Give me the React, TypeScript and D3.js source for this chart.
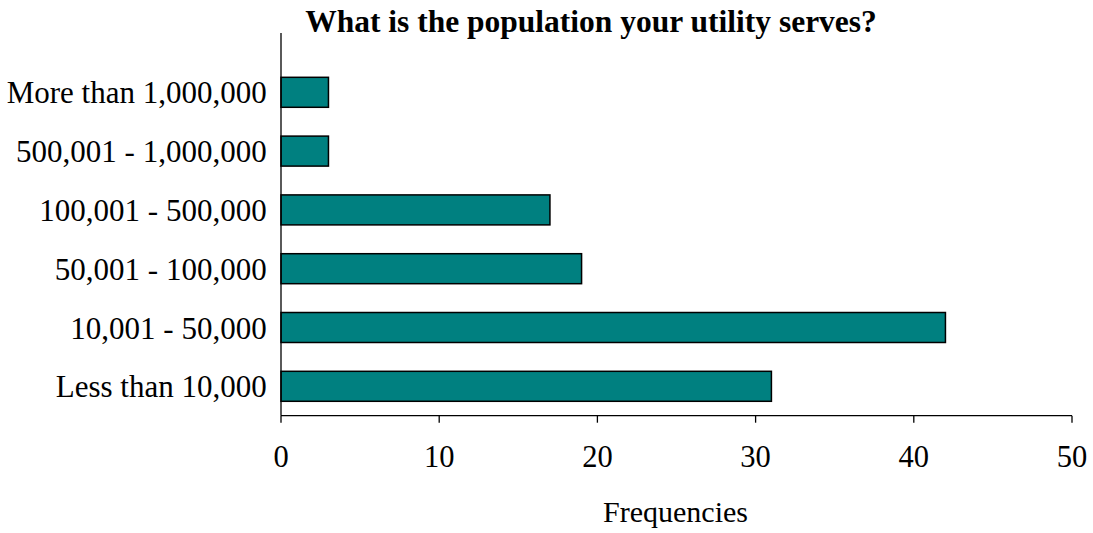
import React from "react";
import * as d3 from "d3";

const categories = [
  "More than 1,000,000",
  "500,001 - 1,000,000",
  "100,001 - 500,000",
  "50,001 - 100,000",
  "10,001 - 50,000",
  "Less than 10,000",
];
const frequencies = [3, 3, 17, 19, 42, 31];
const xTicks = [0, 10, 20, 30, 40, 50];
const title = "What is the population your utility serves?";
const xTitle = "Frequencies";

const W = 1093;
const H = 533;
const FONT = "'Liberation Serif', 'Times New Roman', serif";

export default function App() {
  const x = d3.scaleLinear().domain([0, 50]).range([281, 1072]);
  const y = d3
    .scaleBand<string>()
    .domain(categories)
    .range([62.9, 415.7])
    .paddingInner(0.49)
    .paddingOuter(0.245);
  const axisY = 415.7;
  const axisTop = 33;

  return (
    <svg
      width={W}
      height={H}
      style={{ position: "absolute", left: 0, top: 0, background: "#fff" }}
      fontFamily={FONT}
    >
      <text x={591} y={32} textAnchor="middle" fontSize={31.5} fontWeight="bold" fill="#000">
        {title}
      </text>
      {categories.map((c, i) => (
        <rect
          key={c}
          x={x(0)}
          y={y(c)!}
          width={x(frequencies[i]) - x(0)}
          height={y.bandwidth()}
          fill="#008080"
          stroke="#000"
          strokeWidth={1.5}
        />
      ))}
      <line x1={x(0)} x2={x(0)} y1={axisTop} y2={axisY} stroke="#000" strokeWidth={1.3} />
      <line x1={x(0)} x2={x(50)} y1={axisY} y2={axisY} stroke="#000" strokeWidth={1.3} />
      {xTicks.map((t) => (
        <g key={t}>
          <line x1={x(t)} x2={x(t)} y1={axisY} y2={axisY + 7} stroke="#000" strokeWidth={1.3} />
          <text x={x(t)} y={466.7} textAnchor="middle" fontSize={30.5} fill="#000">
            {t}
          </text>
        </g>
      ))}
      {categories.map((c) => (
        <text
          key={c}
          x={266.7}
          y={y(c)! + y.bandwidth() / 2 + 11}
          textAnchor="end"
          fontSize={31}
          fill="#000"
        >
          {c}
        </text>
      ))}
      <text x={675.5} y={521.7} textAnchor="middle" fontSize={30} fill="#000">
        {xTitle}
      </text>
    </svg>
  );
}
